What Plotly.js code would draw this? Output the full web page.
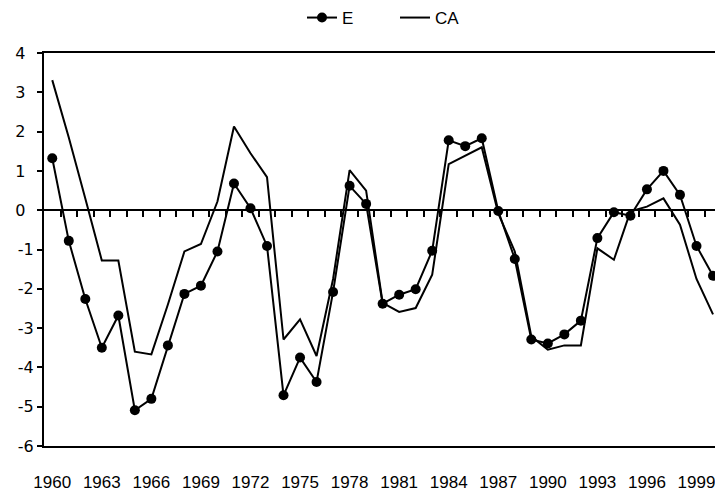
<!DOCTYPE html>
<html>
<head>
<meta charset="utf-8">
<script src="https://cdn.plot.ly/plotly-3.0.1.min.js"></script>
<style>html,body{margin:0;padding:0;background:#fff}#chart{width:715px;height:493px}</style>
</head>
<body>
<div id="chart"></div>
<script>
const years = [];
for (let y = 1960; y <= 2000; y++) years.push(y);

const E = [1.32, -0.78, -2.26, -3.50, -2.68, -5.09, -4.80, -3.44, -2.13, -1.92,
  -1.05, 0.68, 0.05, -0.91, -4.71, -3.75, -4.37, -2.08, 0.62, 0.16,
  -2.38, -2.15, -2.01, -1.03, 1.78, 1.63, 1.83, -0.02, -1.24, -3.29,
  -3.39, -3.16, -2.81, -0.71, -0.05, -0.14, 0.53, 1.00, 0.39, -0.91, -1.67];

const CA = [3.31, 1.85, 0.30, -1.28, -1.28, -3.60, -3.67, -2.40, -1.05, -0.86,
  0.22, 2.13, 1.45, 0.84, -3.29, -2.78, -3.71, -1.75, 1.02, 0.50,
  -2.36, -2.59, -2.49, -1.64, 1.17, 1.38, 1.60, -0.08, -1.05, -3.21,
  -3.55, -3.44, -3.44, -0.97, -1.26, -0.03, 0.09, 0.30, -0.37, -1.75, -2.65];

const tickYears = [1960, 1963, 1966, 1969, 1972, 1975, 1978, 1981, 1984, 1987, 1990, 1993, 1996, 1999];
const yTicks = [-6, -5, -4, -3, -2, -1, 0, 1, 2, 3, 4];
const yTickText = yTicks.map(v => v < 0 ? String(v) : v + '\u00a0\u2009');
const boundaries = years.slice(0, -1).map(y => y + 0.5);

const xr = [1959.5, 2000.12];

const data = [
  {x: years, y: E, name: 'E', type: 'scatter', mode: 'lines+markers',
   line: {color: '#000', width: 2}, marker: {color: '#000', size: 10}},
  {x: years, y: CA, name: 'CA', type: 'scatter', mode: 'lines',
   line: {color: '#000', width: 2}},
  {x: [], y: [], xaxis: 'x2', yaxis: 'y', showlegend: false, hoverinfo: 'skip'}
];

const layout = {
  width: 715, height: 493,
  margin: {l: 44, r: 0, t: 53, b: 47},
  paper_bgcolor: '#fff', plot_bgcolor: '#fff',
  showlegend: true,
  legend: {orientation: 'h', x: 0.3845, xanchor: 'left', y: 1.09, yanchor: 'middle',
    entrywidth: 48, entrywidthmode: 'pixels',
    font: {family: 'Liberation Sans, Arial, sans-serif', size: 17, color: '#000'}},
  xaxis: {range: xr, showgrid: false, zeroline: false, showline: true, mirror: true,
    linecolor: '#000', linewidth: 2, tickmode: 'array', tickvals: tickYears,
    ticktext: tickYears.map(String), ticks: '', ticklabelstandoff: 20,
    ticklabeloverflow: 'allow',
    tickfont: {family: 'Liberation Sans Narrow, Arial Narrow, sans-serif', size: 17, color: '#000'}},
  xaxis2: {range: xr, overlaying: 'x', anchor: 'free', position: 0.6, side: 'bottom',
    showgrid: false, zeroline: false, showline: true, linecolor: '#000', linewidth: 2,
    tickmode: 'array', tickvals: boundaries, ticks: 'outside', ticklen: 6, tickwidth: 2,
    tickcolor: '#000', showticklabels: false},
  yaxis: {range: [-6, 4], showgrid: false, zeroline: false, showline: true, linecolor: '#000',
    linewidth: 2, tickmode: 'array', tickvals: yTicks, ticktext: yTickText,
    ticks: 'outside', ticklen: 5, tickwidth: 2, tickcolor: '#000',
    tickfont: {family: 'DejaVu Sans, sans-serif', size: 16, color: '#000'}}
};

Plotly.newPlot('chart', data, layout, {displayModeBar: false, staticPlot: true});
</script>
</body>
</html>
